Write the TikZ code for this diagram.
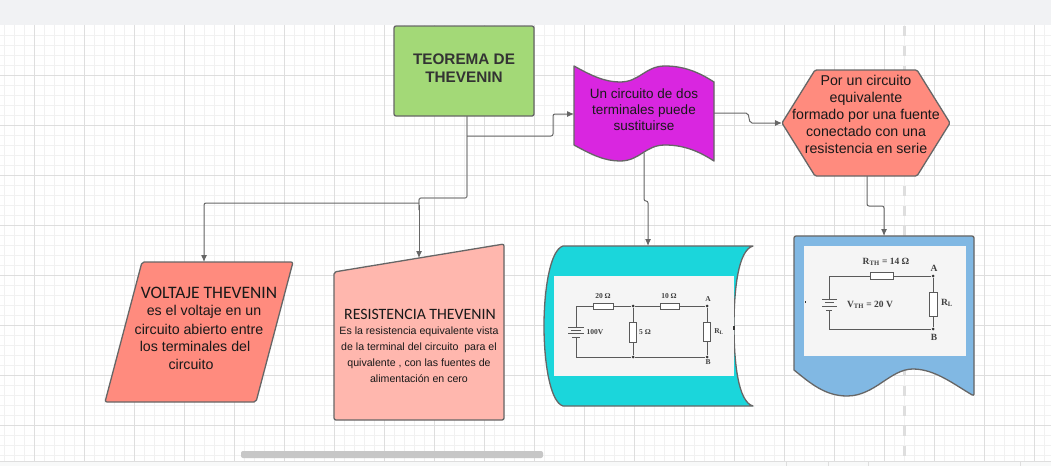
\documentclass[tikz,border=0pt]{standalone}
\usepackage{fontspec}
\setmainfont{Liberation Sans}
\newfontfamily\headfont{Carlito}
\newfontfamily\circfont{Liberation Serif}
\usetikzlibrary{arrows.meta,positioning}
\definecolor{gridminor}{HTML}{F1F1F1}
\definecolor{gridmajor}{HTML}{DEDEDE}
\definecolor{edgegray}{HTML}{666666}
\definecolor{wiregray}{HTML}{5A5A5A}
\definecolor{temagreen}{HTML}{A3D977}
\definecolor{flagpink}{HTML}{D926E0}
\definecolor{salmon}{HTML}{FF8B7E}
\definecolor{salmonlight}{HTML}{FFB7AE}
\definecolor{tealfill}{HTML}{1BD6DB}
\definecolor{docblue}{HTML}{81B8E3}
\definecolor{barfill}{HTML}{F1F2F4}
\tikzset{
  shapeline/.style={draw=edgegray,line width=1.3pt,line join=round},
  flowArrow/.style={-{Latex[length=7pt,width=6pt]},draw=edgegray,line width=1pt,rounded corners=2pt},
  flowLine/.style={draw=edgegray!80,line width=1.2pt,rounded corners=2pt},
  txt/.style={inner sep=0pt,text=black!90,font=\fontsize{14.2}{17}\selectfont,align=center},
  wire/.style={draw=wiregray,line width=0.8pt},
  resbox/.style={draw=wiregray,fill=white,line width=0.7pt,inner sep=0pt},
  junc/.style={circle,fill=black!80,inner sep=0pt,minimum size=3pt},
  circtxt/.style={inner sep=0pt,text=black!75,font=\circfont\bfseries\fontsize{7.5}{8}\selectfont},
  circbig/.style={circtxt,font=\circfont\bfseries\fontsize{9.5}{10}\selectfont}
}

\begin{document}
\begin{tikzpicture}[x=1pt,y=-1pt]
  \useasboundingbox (0,0) rectangle (1051,466);
  \fill[white] (0,25) rectangle (1051,461);
  \foreach \gx in {4,14,...,1044} \draw[gridminor,line width=0.8pt] (\gx,25) -- (\gx,461);
  \foreach \gy in {35,45,...,455} \draw[gridminor,line width=0.8pt] (0,\gy) -- (1051,\gy);
  \foreach \gx in {34,84,...,1034} \draw[gridmajor,line width=0.8pt] (\gx,25) -- (\gx,461);
  \foreach \gy in {75,125,...,425} \draw[gridmajor,line width=0.8pt] (0,\gy) -- (1051,\gy);
  \draw[gridmajor,line width=3pt,dash pattern=on 10pt off 10pt] (904,26) -- (904,461);
  \fill[barfill] (0,0) rectangle (1051,25);
  \fill[barfill!50] (0,461) rectangle (1051,466);
  \draw[gridmajor,line width=0.8pt] (0,461) -- (1051,461);
  \foreach \gx in {786,828,868,1020} \draw[gridmajor,line width=0.8pt] (\gx,461) -- (\gx,466);
  \fill[black!22,rounded corners=2pt] (241,451) rectangle (543,458);

  \coordinate (temaout) at (467,116);
  \coordinate (tematurn) at (467,136);
  \coordinate (flagin) at (574,114);
  \coordinate (flagout) at (714,113);
  \coordinate (flagdown) at (644,153);
  \coordinate (hexain) at (782,123);
  \coordinate (hexaout) at (867,176);
  \coordinate (voltin) at (204,262);
  \coordinate (resin) at (419,258);
  \coordinate (tealin) at (648,246);
  \coordinate (docin) at (884,236);

  \draw[flowLine] (temaout) -- (tematurn) -- (467,198) -- (419,198) -- (419,210);
  \draw[flowArrow] (419,203) -- (204,203) -- (voltin);
  \draw[flowArrow] (419,205) -- (resin);
  \draw[flowArrow] (tematurn) -- (553,136) -- (553,114) -- (flagin);
  \draw[flowArrow] (flagout) -- (748,113) -- (750,123) -- (hexain);
  \draw[flowArrow] (flagdown) -- (644,201) -- (648,201) -- (tealin);
  \draw[flowArrow] (hexaout) -- (867,206) -- (884,206) -- (docin);

  \node[shapeline,fill=temagreen,rounded corners=2pt,minimum width=140pt,minimum height=90pt,inner sep=0pt] (temabox) at (464,71) {};
  \node[txt,font=\bfseries\fontsize{15.3}{18}\selectfont,text=black!80] (tema) at (464,68) {TEOREMA DE\\THEVENIN};

  \path[shapeline,fill=flagpink] (574,66) .. controls (592,76) and (605,82) .. (620,82)
    .. controls (640,82) and (645,66) .. (665,66) .. controls (685,66) and (700,73) .. (714,82)
    -- (714,161) .. controls (700,152) and (685,145) .. (665,145)
    .. controls (645,145) and (640,161) .. (620,161) .. controls (605,161) and (592,155) .. (574,145) -- cycle;
  \node[txt,font=\fontsize{13.5}{16}\selectfont] (flagtxt) at (644,110) {Un circuito de dos\\terminales puede\\sustituirse};

  \path[shapeline,fill=salmon,rounded corners=1.5pt] (815,70) -- (917,70) -- (950,123) -- (917,176) -- (815,176) -- (782,123) -- cycle;
  \node[txt] (hexatxt) at (866,114) {Por un circuito\\equivalente\\formado por una fuente\\conectado con una\\resistencia en serie};

  \path[shapeline,fill=salmon,rounded corners=2pt] (142,262) -- (293,262) -- (256,402) -- (105,402) -- cycle;
  \node[txt,font=\headfont\fontsize{17.5}{17}\selectfont] (volt1) at (209,293) {VOLTAJE THEVENIN};
  \foreach \lnum/\lx/\ly/\ltext in {2/204/312/es el voltaje en un,3/199/329/circuito abierto entre,4/195/346/los terminales del,5/191/364/circuito}
    \node[txt] (volt\lnum) at (\lx,\ly) {\ltext};

  \path[shapeline,fill=salmonlight,rounded corners=2pt] (334,272) -- (504,244) -- (504,420) -- (334,420) -- cycle;
  \node[txt,font=\headfont\fontsize{15.8}{17}\selectfont] (res1) at (420,314) {RESISTENCIA THEVENIN};
  \node[txt,font=\fontsize{10.6}{16}\selectfont] (res2) at (419,355) {Es la resistencia equivalente vista\\de la terminal del circuito\ \ para el\\quivalente , con las fuentes de\\alimentación en cero};

  \path[shapeline,fill=tealfill] (563,246) -- (753,246) .. controls (738,250) and (734,290) .. (734,326)
    .. controls (734,362) and (738,402) .. (753,406) -- (563,406)
    .. controls (550,402) and (544,362) .. (544,326) .. controls (544,290) and (550,250) .. (563,246) -- cycle;
  \fill[black!4] (554,276) rectangle (734,376);
  \fill[black!80] (733,326) rectangle (734.5,330);

  \node[resbox,minimum width=20pt,minimum height=6pt] (r20) at (603,306) {};
  \node[resbox,minimum width=19pt,minimum height=6pt] (r10) at (670,306) {};
  \node[resbox,minimum width=7pt,minimum height=20pt] (r5) at (633,332) {};
  \node[resbox,minimum width=7pt,minimum height=19pt] (rl) at (707,332) {};
  \node[junc] (j1) at (633,306) {};
  \node[junc] (j2) at (707,306) {};
  \node[junc] (j3) at (633,357) {};
  \node[junc] (j4) at (707,357) {};
  \coordinate (battop) at (576,327);
  \coordinate (batbot) at (576,337);
  \draw[wire] (battop) |- (r20) (r20) -- (j1) (j1) -- (r10) (r10) -- (j2) (j2) -- (rl) (rl) -- (j4)
    (j1) -- (r5) (r5) -- (j3) (batbot) |- (j3) (j3) -- (j4);
  \draw[wire] (568,327) -- (584,327) (571,330) -- (581,330) (568,333) -- (584,333) (572,337) -- (580,337);
  \node[circtxt] (l20) at (603,296) {20 Ω};
  \node[circtxt] (l10) at (669,296) {10 Ω};
  \node[circtxt] (l100) at (595,332) {100V};
  \node[circtxt] (l5) at (645,332) {5 Ω};
  \node[circtxt] (la) at (708,299) {A};
  \node[circtxt] (lb) at (708,362) {B};
  \node[circtxt] (lrl) at (719,332) {R\textsubscript{L}};

  \path[shapeline,fill=docblue,rounded corners=2pt] (794,370) -- (794,236) -- (974,236) -- (974,396) [sharp corners]
    .. controls (955,385) and (935,369) .. (913,369) .. controls (890,369) and (875,396) .. (847,396)
    .. controls (825,396) and (810,383) .. (794,370) -- cycle;
  \fill[black!4] (804,246) rectangle (966,356);
  \fill[black!80] (804.5,301) rectangle (806,303);

  \node[resbox,minimum width=23pt,minimum height=7pt] (rth) at (882,276) {};
  \node[resbox,minimum width=8pt,minimum height=24pt] (rl2) at (933,304) {};
  \node[junc] (j5) at (933,276) {};
  \node[junc] (j6) at (933,329) {};
  \coordinate (bat2top) at (829,299);
  \coordinate (bat2bot) at (829,310);
  \draw[wire] (bat2top) |- (rth) (rth) -- (j5) (j5) -- (rl2) (rl2) -- (j6) (bat2bot) |- (j6);
  \draw[wire] (822,299) -- (837,299) (825,302.5) -- (834,302.5) (822,306) -- (837,306) (826,310) -- (832,310);
  \node[circbig] (lrth) at (886,262) {R\textsubscript{TH} = 14 Ω};
  \node[circbig] (lvth) at (870,305) {V\textsubscript{TH} = 20 V};
  \node[circbig] (la2) at (934,268) {A};
  \node[circbig] (lb2) at (934,337) {B};
  \node[circbig] (lrl2) at (947,303) {R\textsubscript{L}};
\end{tikzpicture}
\end{document}
